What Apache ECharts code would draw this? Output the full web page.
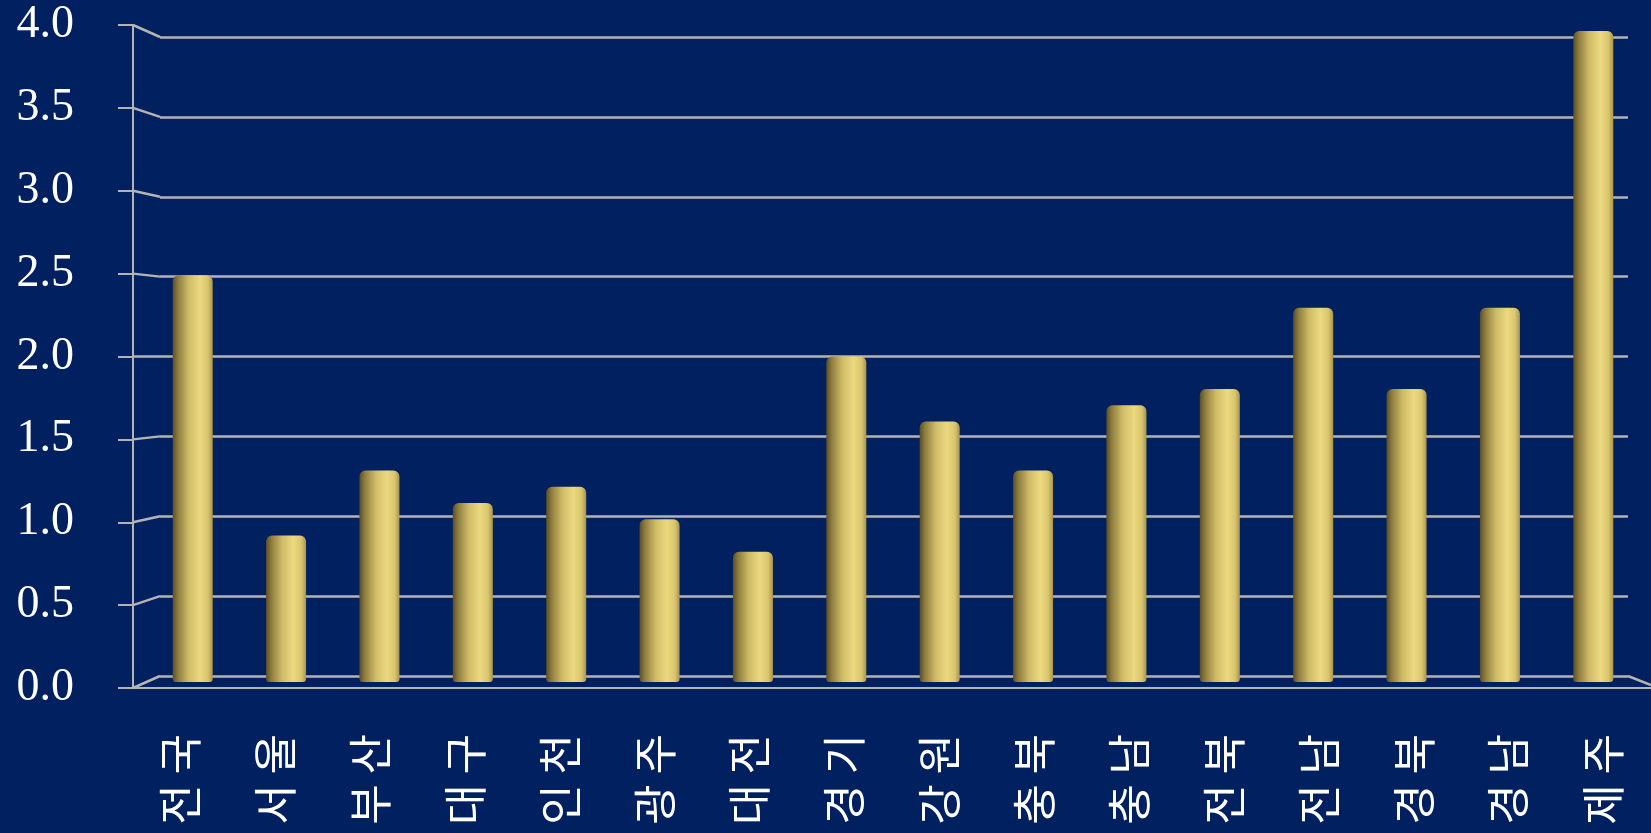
<!DOCTYPE html>
<html>
<head>
<meta charset="utf-8">
<title>지역별 막대 차트</title>
<script src="https://cdn.jsdelivr.net/npm/echarts@6/dist/echarts.min.js"></script>
<style>
  html, body { margin: 0; padding: 0; background: #002060; }
  #chart { width: 1651px; height: 833px; }
</style>
</head>
<body>
<div id="chart"></div>
<script>
  // data
  var regions = ['전국', '서울', '부산', '대구', '인천', '광주', '대전', '경기',
                 '강원', '충북', '충남', '전북', '전남', '경북', '경남', '제주'];
  var values = [2.5, 0.9, 1.3, 1.1, 1.2, 1.0, 0.8, 2.0, 1.6, 1.3, 1.7, 1.8, 2.3, 1.8, 2.3, 4.0];
  var yTicks = [0, 0.5, 1.0, 1.5, 2.0, 2.5, 3.0, 3.5, 4.0];

  // fake-3d layout: back wall, middle (bars), front axes
  var back  = { left: 160, top: 37, width: 1468, height: 639 };
  var mid   = { left: 146, top: 31, width: 1494, height: 651 };
  var front = { left: 133, top: 25, width: 1520, height: 663 };

  var lineColor = '#b4b4b4';
  var yMin = yTicks[0], yMax = yTicks[yTicks.length - 1], yStep = yTicks[1] - yTicks[0];

  var chart = echarts.init(document.getElementById('chart'), null, {renderer: 'canvas'});

  var barColor = new echarts.graphic.LinearGradient(0, 0, 1, 0, [
    {offset: 0, color: '#5a4e25'},
    {offset: 0.12, color: '#8a793c'},
    {offset: 0.4, color: '#cfbb66'},
    {offset: 0.68, color: '#ebd980'},
    {offset: 0.88, color: '#d9c56d'},
    {offset: 1, color: '#a8954d'}
  ]);

  var option = {
    backgroundColor: '#002060',
    animation: false,
    grid: [
      {left: back.left, top: back.top, width: back.width, height: back.height},
      {left: mid.left, top: mid.top, width: mid.width, height: mid.height},
      {left: front.left, top: front.top, width: front.width, height: front.height}
    ],
    xAxis: [
      {type: 'category', gridIndex: 0, data: regions, show: false},
      {type: 'category', gridIndex: 1, data: regions, show: false},
      {
        type: 'category', gridIndex: 2, data: regions,
        axisLine: {lineStyle: {color: lineColor, width: 2}},
        axisTick: {length: 15, lineStyle: {color: lineColor, width: 2}},
        axisLabel: {
          interval: 0, rotate: 90, margin: 46, color: '#ffffff',
          fontFamily: 'Noto Sans CJK KR', fontSize: 44,
          formatter: function (s) { return s.split('').join(' '); }
        }
      }
    ],
    yAxis: [
      {
        type: 'value', gridIndex: 0, min: yMin, max: yMax, interval: yStep,
        axisLine: {show: false}, axisTick: {show: false}, axisLabel: {show: false},
        splitLine: {lineStyle: {color: lineColor, width: 2.5}}
      },
      {type: 'value', gridIndex: 1, min: yMin, max: yMax, interval: yStep, show: false,
       splitLine: {show: false}},
      {
        type: 'value', gridIndex: 2, min: yMin, max: yMax, interval: yStep,
        axisLine: {show: true, lineStyle: {color: lineColor, width: 2}},
        axisTick: {show: true, length: 15, lineStyle: {color: lineColor, width: 2}},
        splitLine: {show: false},
        axisLabel: {
          margin: 59, color: '#ffffff', fontFamily: 'Liberation Serif', fontSize: 46,
          formatter: function (v) { return v.toFixed(1); }
        }
      }
    ],
    series: [
      {
        type: 'bar', xAxisIndex: 1, yAxisIndex: 1, data: values,
        barWidth: 40,
        itemStyle: {color: barColor, borderRadius: [6, 6, 3, 3]}
      }
    ]
  };

  chart.setOption(option);

  // slanted connectors between front ticks and back gridlines
  var graphics = [];
  yTicks.forEach(function (v) {
    var yf = chart.convertToPixel({yAxisIndex: 2}, v);
    var yb = chart.convertToPixel({yAxisIndex: 0}, v);
    graphics.push({
      type: 'line', silent: true,
      shape: {x1: front.left, y1: yf, x2: back.left, y2: yb},
      style: {stroke: lineColor, lineWidth: 2.5}
    });
  });
  var yf0 = chart.convertToPixel({yAxisIndex: 2}, yMin);
  var yb0 = chart.convertToPixel({yAxisIndex: 0}, yMin);
  graphics.push({
    type: 'line', silent: true,
    shape: {x1: back.left + back.width, y1: yb0, x2: 1651, y2: yf0 - 3},
    style: {stroke: lineColor, lineWidth: 2.5}
  });
  chart.setOption({graphic: graphics});
</script>
</body>
</html>
